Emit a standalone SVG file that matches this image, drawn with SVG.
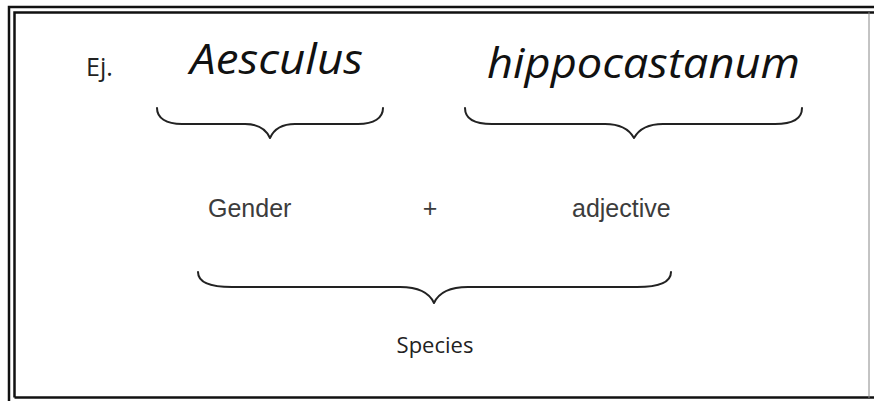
<svg xmlns="http://www.w3.org/2000/svg" width="874" height="401" viewBox="0 0 874 401">
<style>
.frame{fill:none;stroke:#111;stroke-width:2.5}
.brace{fill:none;stroke:#222;stroke-width:2;stroke-linecap:round;stroke-linejoin:round}
.latin{font-family:"Open Sans","Noto Sans",sans-serif;font-style:italic;font-size:42px;fill:#111}
.cal{font-family:"Open Sans","Noto Sans",sans-serif;fill:#222}
.arial{font-family:"Liberation Sans",Arial,sans-serif;font-size:25px;fill:#3c3c3c}
</style>
<rect x="0" y="0" width="874" height="401" fill="#fff"/>
<g id="frame">
<path class="frame" d="M9,401 V7 H874"/>
<path class="frame" d="M14.5,397.5 V12.5 H874"/>
<path class="frame" d="M14.5,397.5 H874"/>
<path d="M869,12 V398" fill="none" stroke="#888" stroke-width="1"/>
</g>
<g id="ej"><text class="cal" x="86" y="76" font-size="25">Ej.</text></g>
<g id="aesculus"><text class="latin" x="190" y="74" textLength="173" lengthAdjust="spacingAndGlyphs">Aesculus</text></g>
<g id="hippocastanum"><text class="latin" x="487" y="78" textLength="313" lengthAdjust="spacingAndGlyphs">hippocastanum</text></g>
<g id="gender"><text class="arial" x="208" y="217">Gender</text></g>
<g id="plus"><text class="arial" x="430" y="217" text-anchor="middle">+</text></g>
<g id="adjective"><text class="arial" x="572" y="217">adjective</text></g>
<g id="species"><text class="cal" x="435" y="353" font-size="22" text-anchor="middle">Species</text></g>
<g id="connectors">
<path class="brace" d="M157,108 C157,118 166,124 182,124 H245 C258,124 266,129 270,138 C274,129 282,124 295,124 H358 C374,124 383,118 383,108"/>
<path class="brace" d="M465,108 C465,118 474,124 492,124 H605 C619,124 629,129 634,138 C639,129 649,124 663,124 H775 C793,124 802,118 802,108"/>
<path class="brace" d="M198,272 C198,282 210,287 232,287 H400 C417,287 429,292 434,303 C439,292 451,287 468,287 H637 C659,287 671,282 671,272"/>
</g>
</svg>
